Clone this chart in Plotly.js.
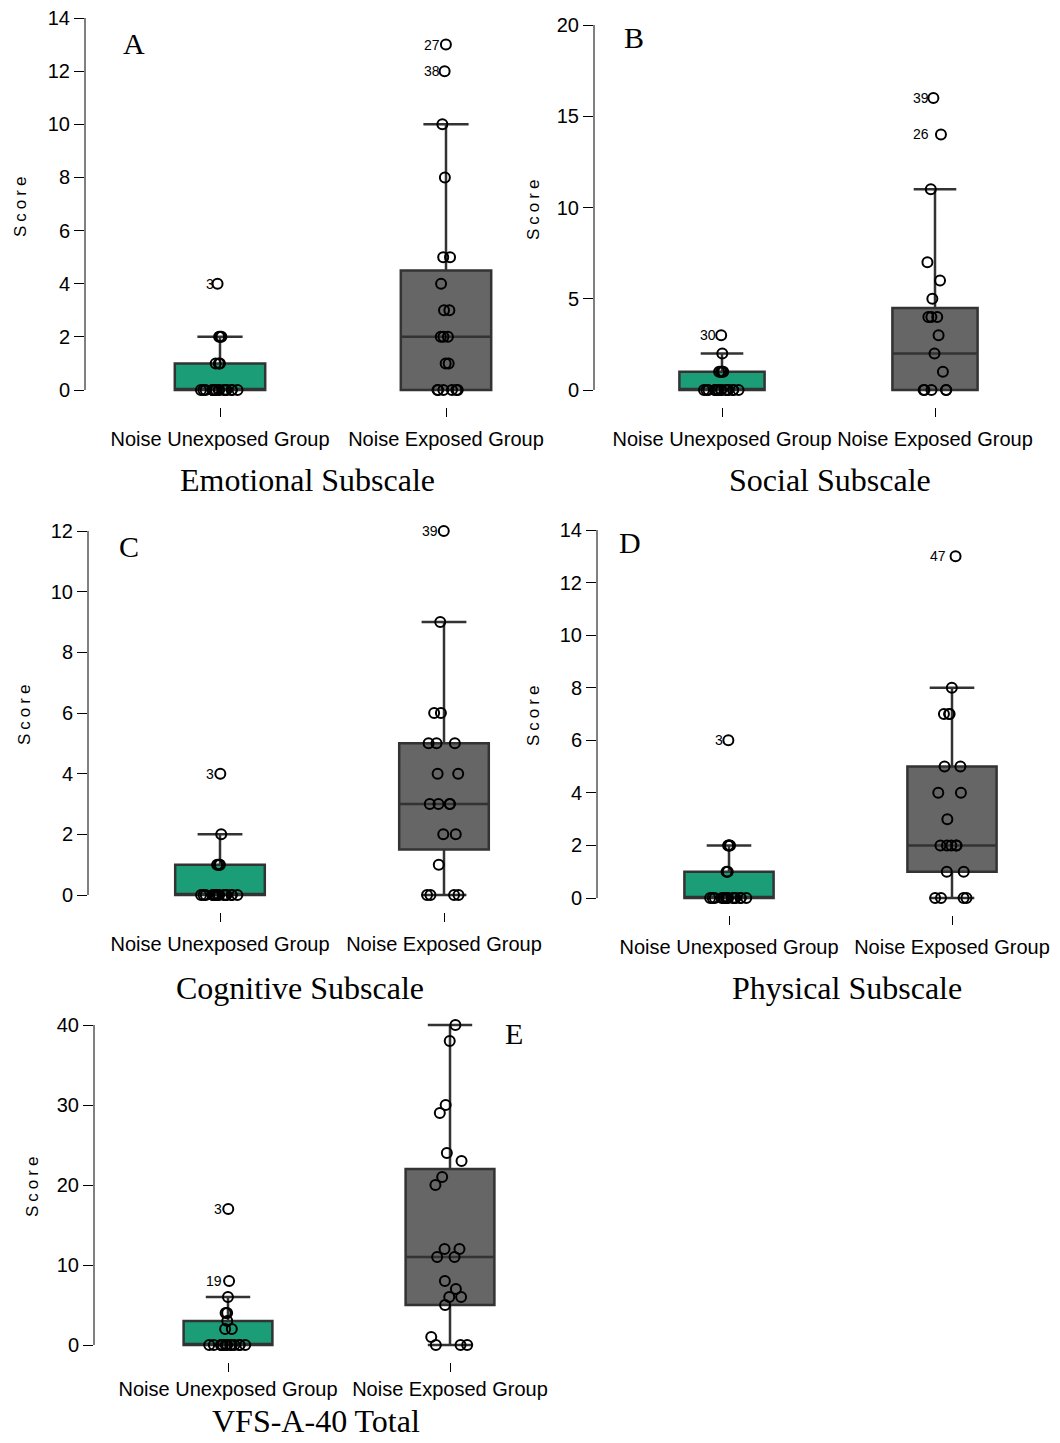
<!DOCTYPE html>
<html><head><meta charset="utf-8">
<script src="https://cdn.plot.ly/plotly-3.0.1.min.js"></script>
<style>html,body{margin:0;padding:0;background:#fff}#chart{width:1060px;height:1443px}</style>
</head><body><div id="chart"></div>
<script>
const groups = ["Noise Unexposed Group", "Noise Exposed Group"];

// A: Emotional Subscale
const emoUnexposed = [0,0,0,0,0,0,0,0,0,0,0,0,0,0,0,0,0,1,1,1,2,2,2,4];
const emoExposed   = [0,0,0,0,0,0,1,1,2,2,2,3,3,4,5,5,8,10,12,13];
const emoQ1 = [0,0], emoMedian = [0,2], emoQ3 = [1,4.5], emoLower = [0,0], emoUpper = [2,10];
const emoOutGroup = [0,1,1], emoOutY = [4,13,12], emoOutLabel = ["3","27","38"];

// B: Social Subscale
const socUnexposed = [0,0,0,0,0,0,0,0,0,0,0,0,0,0,0,0,0,1,1,1,1,2,3];
const socExposed   = [0,0,0,0,0,1,2,3,4,4,4,5,6,7,11,14,16];
const socQ1 = [0,0], socMedian = [0,2], socQ3 = [1,4.5], socLower = [0,0], socUpper = [2,11];
const socOutGroup = [0,1,1], socOutY = [3,16,14], socOutLabel = ["30","39","26"];

// C: Cognitive Subscale
const cogUnexposed = [0,0,0,0,0,0,0,0,0,0,0,0,0,0,0,0,1,1,1,1,2,4];
const cogExposed   = [0,0,0,0,1,2,2,3,3,3,3,4,4,5,5,5,6,6,9,12];
const cogQ1 = [0,1.5], cogMedian = [0,3], cogQ3 = [1,5], cogLower = [0,0], cogUpper = [2,9];
const cogOutGroup = [0,1], cogOutY = [4,12], cogOutLabel = ["3","39"];

// D: Physical Subscale
const phyUnexposed = [0,0,0,0,0,0,0,0,0,0,0,0,0,0,0,0,1,1,2,2,2,2,6];
const phyExposed   = [0,0,0,0,1,1,2,2,2,2,2,3,4,4,5,5,7,7,7,8,13];
const phyQ1 = [0,1], phyMedian = [0,2], phyQ3 = [1,5], phyLower = [0,0], phyUpper = [2,8];
const phyOutGroup = [0,1], phyOutY = [6,13], phyOutLabel = ["3","47"];

// E: VFS-A-40 Total
const totUnexposed = [0,0,0,0,0,0,0,0,0,0,0,0,0,0,2,2,3,4,4,6,8,17];
const totExposed   = [0,0,0,1,5,6,6,7,8,11,11,12,12,20,21,23,24,29,30,38,40];
const totQ1 = [0,5], totMedian = [0,11], totQ3 = [3,22], totLower = [0,0], totUpper = [6,40];
const totOutGroup = [0,0], totOutY = [17,8], totOutLabel = ["3","19"];

const panelData = [
  {title:"Emotional Subscale", letter:"A", samples:[emoUnexposed, emoExposed], q1:emoQ1, med:emoMedian, q3:emoQ3, lo:emoLower, hi:emoUpper, og:emoOutGroup, oy:emoOutY, ol:emoOutLabel, ymax:14, dtick:2},
  {title:"Social Subscale", letter:"B", samples:[socUnexposed, socExposed], q1:socQ1, med:socMedian, q3:socQ3, lo:socLower, hi:socUpper, og:socOutGroup, oy:socOutY, ol:socOutLabel, ymax:20, dtick:5},
  {title:"Cognitive Subscale", letter:"C", samples:[cogUnexposed, cogExposed], q1:cogQ1, med:cogMedian, q3:cogQ3, lo:cogLower, hi:cogUpper, og:cogOutGroup, oy:cogOutY, ol:cogOutLabel, ymax:12, dtick:2},
  {title:"Physical Subscale", letter:"D", samples:[phyUnexposed, phyExposed], q1:phyQ1, med:phyMedian, q3:phyQ3, lo:phyLower, hi:phyUpper, og:phyOutGroup, oy:phyOutY, ol:phyOutLabel, ymax:14, dtick:2},
  {title:"VFS-A-40 Total", letter:"E", samples:[totUnexposed, totExposed], q1:totQ1, med:totMedian, q3:totQ3, lo:totLower, hi:totUpper, og:totOutGroup, oy:totOutY, ol:totOutLabel, ymax:40, dtick:10}
];

// layout geometry (pixels)
const geom = [
  {left:85,  c0:220, unit:226, zeroPx:390,  maxPx:18,   titleX:307, titleY:480,  letterX:134, letterY:43,   scoreX:20,  scoreY:205,  lblStand:5},
  {left:594, c0:722, unit:213, zeroPx:390,  maxPx:25,   titleX:830, titleY:480,  letterX:634, letterY:37,   scoreX:534, scoreY:208,  lblStand:5},
  {left:88,  c0:220, unit:224, zeroPx:895,  maxPx:531,  titleX:300, titleY:988,  letterX:129, letterY:546,  scoreX:24,  scoreY:713,  lblStand:5},
  {left:597, c0:729, unit:223, zeroPx:898,  maxPx:530,  titleX:847, titleY:988,  letterX:630, letterY:542,  scoreX:533, scoreY:714,  lblStand:5},
  {left:94,  c0:228, unit:222, zeroPx:1345, maxPx:1025, titleX:316, titleY:1421, letterX:514, letterY:1033, scoreX:32,  scoreY:1185, lblStand:0}
];

const W = 1060, H = 1443;
const fills = ["#1B9E77", "#666666"];
const boxLine = "#333333";
const sans = "Liberation Sans, Arial, sans-serif";
const serif = "Liberation Serif, Times New Roman, serif";

const traces = [];
const layout = {
  width: W, height: H,
  margin: {l:0, r:0, t:0, b:0},
  paper_bgcolor: "#fff", plot_bgcolor: "rgba(0,0,0,0)",
  showlegend: false, boxmode: "overlay", hovermode: false,
  annotations: [], shapes: []
};

panelData.forEach((p, i) => {
  const g = geom[i];
  const k = i === 0 ? "" : String(i + 1);
  const xa = "x" + k, ya = "y" + k;
  const scale = (g.zeroPx - g.maxPx) / p.ymax;
  const botPx = g.zeroPx + 17, topPx = g.maxPx - 8;
  const rightPx = Math.min(g.c0 + 1.45 * g.unit, W);

  layout["xaxis" + k] = {
    domain: [g.left / W, rightPx / W],
    range: [(g.left - g.c0) / g.unit, (rightPx - g.c0) / g.unit],
    type: "category", categoryorder: "array", categoryarray: groups,
    anchor: ya, showline: false, showgrid: false, zeroline: false,
    ticks: "outside", ticklen: 9, tickwidth: 1, tickcolor: "#000",
    ticklabelstandoff: g.lblStand,
    tickfont: {family: sans, size: 20, color: "#000"}, fixedrange: true
  };
  layout["yaxis" + k] = {
    domain: [1 - botPx / H, 1 - topPx / H],
    range: [-(botPx - g.zeroPx) / scale, p.ymax + (g.maxPx - topPx) / scale],
    anchor: xa, showline: false, showgrid: false, zeroline: false,
    tick0: 0, dtick: p.dtick, ticks: "outside", ticklen: 10, tickwidth: 1, tickcolor: "#000",
    tickfont: {family: sans, size: 20, color: "#000"}, fixedrange: true
  };
  layout.shapes.push({type: "line", xref: xa + " domain", yref: ya, x0: 0, x1: 0, y0: 0, y1: p.ymax,
    line: {color: "#000", width: 1}});

  for (let gi = 0; gi < 2; gi++) {
    traces.push({
      type: "box", xaxis: xa, yaxis: ya, x: [groups[gi]],
      q1: [p.q1[gi]], median: [p.med[gi]], q3: [p.q3[gi]],
      lowerfence: [p.lo[gi]], upperfence: [p.hi[gi]],
      boxpoints: false, width: 0.4, whiskerwidth: 0.5,
      fillcolor: fills[gi], line: {color: boxLine, width: 2.5}, hoverinfo: "skip"
    });
    traces.push({
      type: "box", xaxis: xa, yaxis: ya,
      x: p.samples[gi].map(() => groups[gi]), y: p.samples[gi],
      boxpoints: "all", jitter: 0.5, pointpos: 0, width: 0.4,
      fillcolor: "rgba(0,0,0,0)", line: {color: "rgba(0,0,0,0)", width: 0},
      marker: {symbol: "circle", size: 10, color: "rgba(0,0,0,0)", line: {color: "#000", width: 2}},
      hoverinfo: "skip"
    });
  }

  p.oy.forEach((yv, j) => {
    layout.annotations.push({xref: xa, yref: ya, x: groups[p.og[j]], y: yv, text: p.ol[j],
      showarrow: false, xanchor: "right", yanchor: "middle", xshift: -4,
      font: {family: sans, size: 14, color: "#000"}});
  });

  layout.annotations.push({xref: "paper", yref: "paper", x: g.titleX / W, y: 1 - g.titleY / H,
    text: p.title, showarrow: false, xanchor: "center", yanchor: "middle",
    font: {family: serif, size: 32, color: "#000"}});
  layout.annotations.push({xref: "paper", yref: "paper", x: g.letterX / W, y: 1 - g.letterY / H,
    text: p.letter, showarrow: false, xanchor: "center", yanchor: "middle",
    font: {family: serif, size: 30, color: "#000"}});
  layout.annotations.push({xref: "paper", yref: "paper", x: g.scoreX / W, y: 1 - g.scoreY / H,
    text: '<span style="letter-spacing:4px">Score</span>', showarrow: false, textangle: -90,
    xanchor: "center", yanchor: "middle",
    font: {family: sans, size: 17, color: "#000"}});
});

Plotly.newPlot("chart", traces, layout, {staticPlot: true, displayModeBar: false});
</script>
</body></html>
